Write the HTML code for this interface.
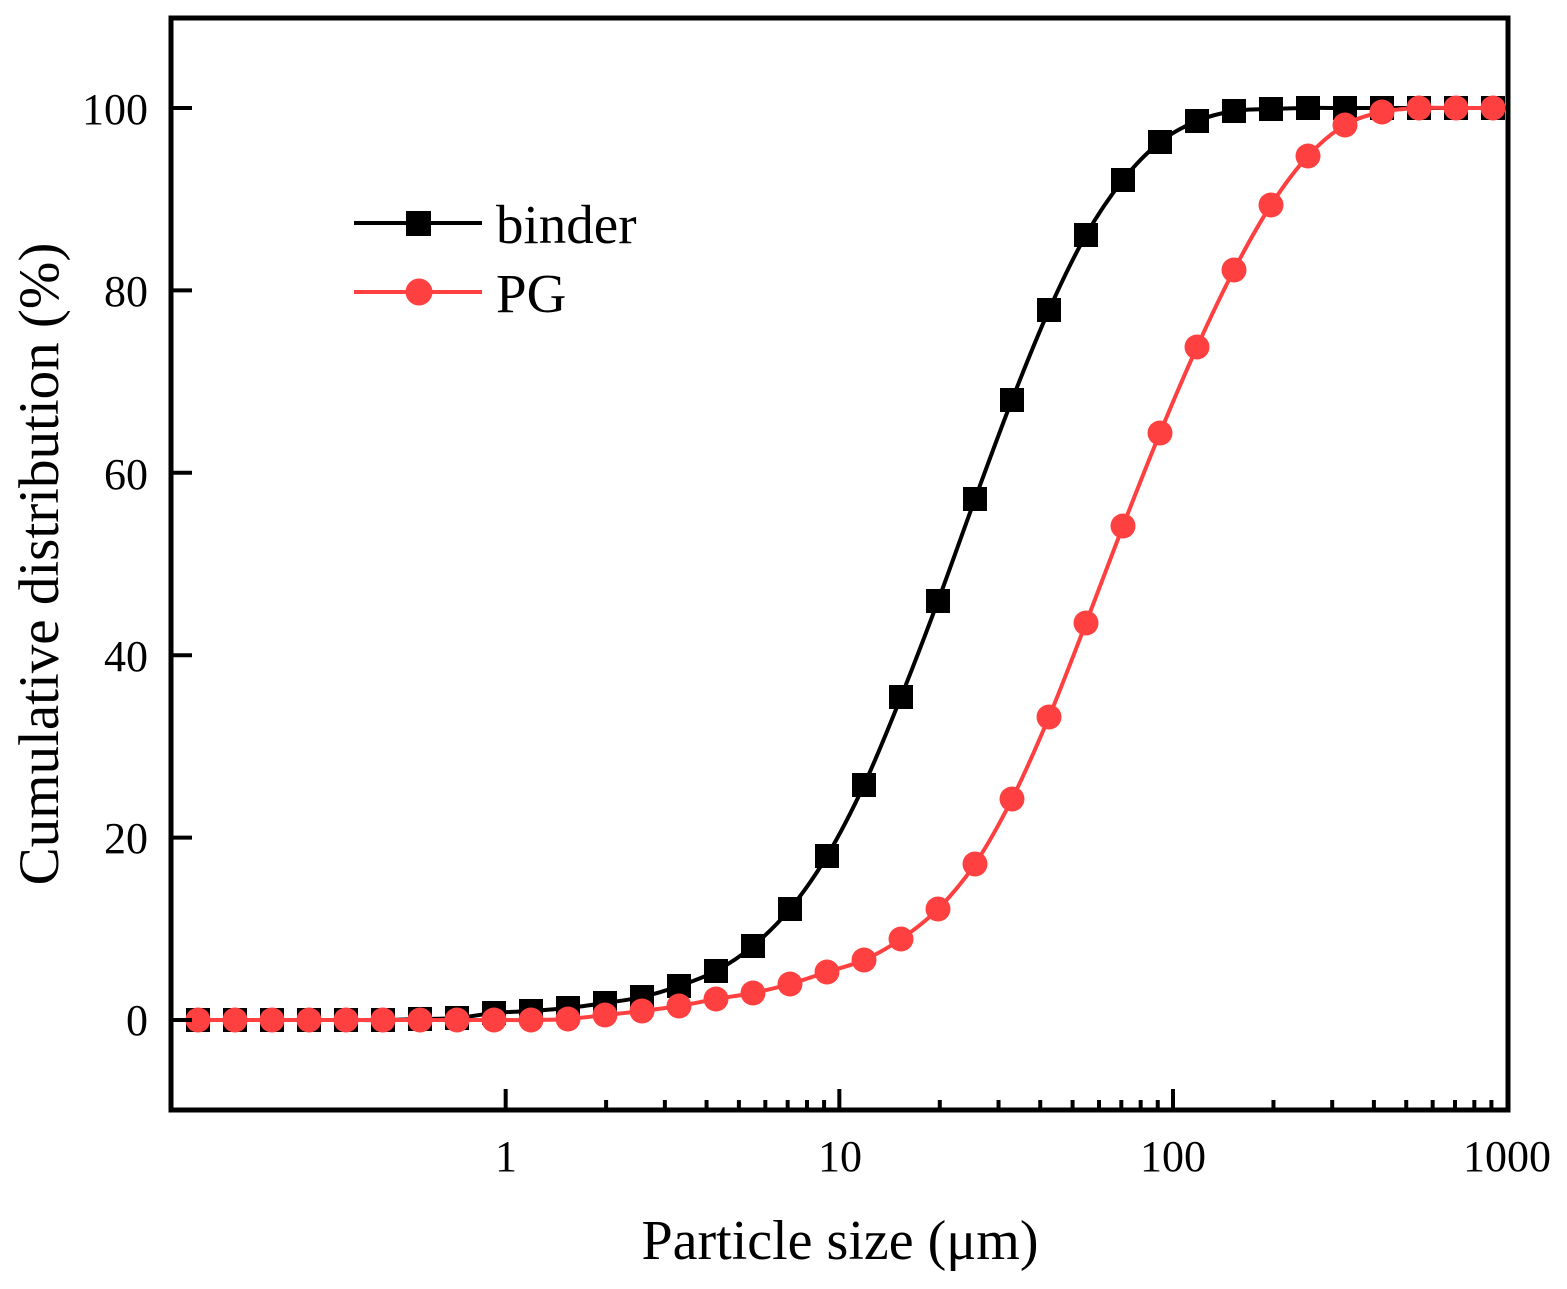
<!DOCTYPE html>
<html><head><meta charset="utf-8"><style>
html,body{margin:0;padding:0;background:#fff;}
svg{display:block;font-family:"Liberation Serif",serif;}
</style></head><body>
<svg id="s" width="1567" height="1289" xmlns="http://www.w3.org/2000/svg">
<g id="plot"></g>
<g fill="#000" font-size="44" text-anchor="end">
<text x="148" y="1035">0</text>
<text x="148" y="853">20</text>
<text x="148" y="671">40</text>
<text x="148" y="489">60</text>
<text x="148" y="306">80</text>
<text x="148" y="124">100</text>
</g>
<g fill="#000" font-size="44" text-anchor="middle">
<text x="506" y="1171">1</text>
<text x="840" y="1171">10</text>
<text x="1173" y="1171">100</text>
<text x="1507" y="1171">1000</text>
</g>
<text x="840" y="1259" font-size="56" text-anchor="middle">Particle size (μm)</text>
<text transform="translate(58,564) rotate(-90)" font-size="57" text-anchor="middle">Cumulative distribution (%)</text>
<line x1="354" y1="223" x2="482" y2="223" stroke="#000" stroke-width="4"/>
<rect x="406" y="211" width="25" height="25" fill="#000"/>
<text x="496" y="243" font-size="55">binder</text>
<line x1="354" y1="292" x2="482" y2="292" stroke="#ff4040" stroke-width="4"/>
<circle cx="419" cy="292" r="13.5" fill="#ff4040"/>
<text x="496" y="312" font-size="55">PG</text>
</svg>
<script>
var NS="http://www.w3.org/2000/svg",g=document.getElementById("plot");
function el(t,a){var e=document.createElementNS(NS,t);for(var k in a)e.setAttribute(k,a[k]);g.appendChild(e);return e;}
var xs=[];for(var i=0;i<36;i++)xs.push(198+37*i);
var b=[1020,1020,1020,1020,1020,1020,1019,1018,1013,1011,1008,1003,997,986,971,946,909,856,785,697,601,499,400,310,235,180,142,121,111,109,108,108,108,108,108,108];
var p=[1020,1020,1020,1020,1020,1020,1020,1020,1020,1020,1019,1015,1011,1006,999,993,984,972,960,939,909,864,799,717,623,526,433,347,270,205,156,125,112,108,108,108];
function path(ys){var pts=xs.map(function(x,i){return[x,ys[i]];});pts.unshift([172,ys[0]]);pts.push([1507,ys[ys.length-1]]);
var d="M"+pts[0][0]+","+pts[0][1];
for(var i=0;i<pts.length-1;i++){var p0=pts[Math.max(i-1,0)],p1=pts[i],p2=pts[i+1],p3=pts[Math.min(i+2,pts.length-1)];
d+=" C"+(p1[0]+(p2[0]-p0[0])/6)+","+(p1[1]+(p2[1]-p0[1])/6)+" "+(p2[0]-(p3[0]-p1[0])/6)+","+(p2[1]-(p3[1]-p1[1])/6)+" "+p2[0]+","+p2[1];}
return d;}
el("path",{d:path(b),fill:"none",stroke:"#000","stroke-width":4});
xs.forEach(function(x,i){el("rect",{x:x-12,y:b[i]-12,width:24,height:24,fill:"#000"});});
el("path",{d:path(p),fill:"none",stroke:"#ff4040","stroke-width":4});
xs.forEach(function(x,i){el("circle",{cx:x,cy:p[i],r:12.5,fill:"#ff4040"});});
el("rect",{x:171,y:18,width:1337,height:1092,fill:"none",stroke:"#000","stroke-width":5});
var dec=333.67;
for(var k=0;k<4;k++){var x0=172+dec*k;
 if(k>0)el("line",{x1:x0,y1:1110,x2:x0,y2:1089,stroke:"#000","stroke-width":4});
 if(k>0)for(var m=2;m<10;m++){var x=x0+dec*Math.log10(m);el("line",{x1:x,y1:1110,x2:x,y2:1100,stroke:"#000","stroke-width":4});}
}
for(var v=0;v<=100;v+=20){var y=1020-9.12*v;el("line",{x1:172,y1:y,x2:192,y2:y,stroke:"#000","stroke-width":4});}
</script>
</body></html>
